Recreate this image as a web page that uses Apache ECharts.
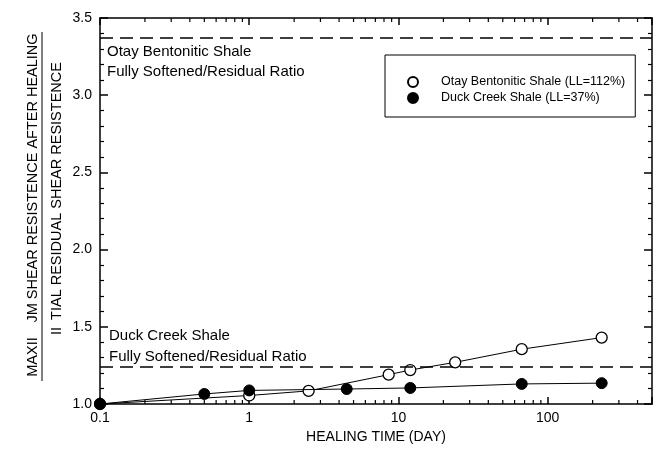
<!DOCTYPE html>
<html>
<head>
<meta charset="utf-8">
<script src="https://cdn.jsdelivr.net/npm/echarts@6/dist/echarts.min.js"></script>
<style>
html,body{margin:0;padding:0;background:#fff;}
#chart{width:671px;height:453px;}
</style>
</head>
<body>
<div id="chart"></div>
<script>
// ---- data ----
const otayDays  = [0.1, 1, 2.5, 8.6, 12, 24, 67, 230];
const otayRatio = [1.0, 1.055, 1.085, 1.19, 1.22, 1.27, 1.355, 1.43];
const duckDays  = [0.1, 0.5, 1, 4.5, 12, 67, 230];
const duckRatio = [1.0, 1.065, 1.088, 1.097, 1.104, 1.13, 1.135];
const otayLimit = 3.37;   // Otay fully softened / residual ratio
const duckLimit = 1.24;   // Duck Creek fully softened / residual ratio
const xTickLabels = ['0.1', '1', '10', '100'];
const seriesNames = ['Otay Bentonitic Shale (LL=112%)', 'Duck Creek Shale (LL=37%)'];

const X_MIN = 0.1, X_MAX = 500, Y_MIN = 1.0, Y_MAX = 3.5;
const FONT = 'Liberation Sans, Arial, sans-serif';

// minor tick values for the log axis (2..9 in each decade)
const minorX = [];
for (const d of [0.1, 1, 10, 100]) {
  for (let k = 2; k <= 9; k++) { const v = k * d; if (v < X_MAX) minorX.push(v); }
}

const chart = echarts.init(document.getElementById('chart'));

function axisLine() { return { show: true, onZero: false, lineStyle: { color: '#000', width: 1.5 } }; }
function majorTick(len) { return { show: true, inside: true, length: len, lineStyle: { color: '#000', width: 1.5 } }; }
function minorTickY() { return { show: true, splitNumber: 5, length: 4, lineStyle: { color: '#000', width: 1.2 } }; }

const option = {
  animation: false,
  grid: { left: 100, right: 19, top: 18, bottom: 49 },
  legend: {
    data: seriesNames,
    orient: 'vertical',
    left: 385, top: 55,
    icon: 'circle',
    itemWidth: 46, itemHeight: 10,
    itemGap: 2,
    padding: [20, 10, 12, 22],
    borderColor: '#000', borderWidth: 1,
    textStyle: { fontFamily: FONT, fontSize: 12.5, color: '#000', lineHeight: 14 }
  },
  xAxis: [
    {
      type: 'log', logBase: 10, min: X_MIN, max: X_MAX, position: 'bottom',
      name: 'HEALING TIME (DAY)', nameLocation: 'middle', nameGap: 24,
      nameTextStyle: { fontFamily: FONT, fontSize: 14, color: '#000' },
      axisLine: axisLine(), splitLine: { show: false },
      axisTick: majorTick(7),
      axisLabel: { fontFamily: FONT, fontSize: 14, color: '#000', margin: 7,
        formatter: function (v) { const s = String(+(+v).toPrecision(6)); return xTickLabels.indexOf(s) >= 0 ? s : ''; } }
    },
    {
      type: 'log', logBase: 10, min: X_MIN, max: X_MAX, position: 'top',
      axisLine: axisLine(), splitLine: { show: false },
      axisTick: majorTick(7),
      axisLabel: { show: false }
    }
  ],
  yAxis: [
    {
      type: 'value', min: Y_MIN, max: Y_MAX, interval: 0.5, position: 'left',
      axisLine: axisLine(), splitLine: { show: false },
      axisTick: majorTick(8),
      minorTick: minorTickY(),
      axisLabel: { fontFamily: FONT, fontSize: 14, color: '#000', margin: 8,
        formatter: function (v) { return v.toFixed(1); } }
    },
    {
      type: 'value', min: Y_MIN, max: Y_MAX, interval: 0.5, position: 'right',
      axisLine: axisLine(), splitLine: { show: false },
      axisTick: majorTick(8),
      minorTick: minorTickY(),
      axisLabel: { show: false }
    }
  ],
  series: [
    {
      name: seriesNames[0], type: 'line',
      data: otayDays.map((d, i) => [d, otayRatio[i]]),
      symbol: 'circle', symbolSize: 11,
      itemStyle: { color: '#fff', borderColor: '#000', borderWidth: 1.3 },
      lineStyle: { color: '#000', width: 1 },
      z: 3,
      markLine: {
        silent: true, symbol: 'none', animation: false,
        label: { show: false },
        lineStyle: { color: '#000', width: 1.5, type: [13, 7] },
        data: [{ yAxis: otayLimit }, { yAxis: duckLimit }]
      }
    },
    {
      name: seriesNames[1], type: 'line',
      data: duckDays.map((d, i) => [d, duckRatio[i]]),
      symbol: 'circle', symbolSize: 11,
      itemStyle: { color: '#000', borderColor: '#000', borderWidth: 1 },
      lineStyle: { color: '#000', width: 1 },
      z: 4
    },
    {
      name: 'minorTicks', type: 'custom', silent: true,
      data: minorX.map(v => [v, Y_MIN]),
      renderItem: function (params, api) {
        const v = api.value(0);
        const pb = api.coord([v, Y_MIN]);
        const pt = api.coord([v, Y_MAX]);
        return { type: 'group', children: [
          { type: 'line', shape: { x1: pb[0], y1: pb[1], x2: pb[0], y2: pb[1] - 4 }, style: { stroke: '#000', lineWidth: 1.2 } },
          { type: 'line', shape: { x1: pt[0], y1: pt[1], x2: pt[0], y2: pt[1] + 4 }, style: { stroke: '#000', lineWidth: 1.2 } }
        ]};
      }
    }
  ],
  graphic: [
    { type: 'text', left: 107, top: 42,
      style: { text: 'Otay Bentonitic Shale\nFully Softened/Residual Ratio', font: '15px ' + FONT, fill: '#000', lineHeight: 20 } },
    { type: 'text', left: 109, top: 325,
      style: { text: 'Duck Creek Shale\nFully Softened/Residual Ratio', font: '15px ' + FONT, fill: '#000', lineHeight: 21 } },
    { type: 'text', x: 33, y: 357, rotation: Math.PI / 2,
      style: { text: 'MAXII', font: '14.5px ' + FONT, fill: '#000', align: 'center', verticalAlign: 'middle' } },
    { type: 'text', x: 33, y: 178, rotation: Math.PI / 2,
      style: { text: 'JM SHEAR RESISTENCE AFTER HEALING', font: '14.5px ' + FONT, fill: '#000', align: 'center', verticalAlign: 'middle' } },
    { type: 'line', shape: { x1: 42, y1: 32, x2: 42, y2: 381 }, style: { stroke: '#000', lineWidth: 1 } },
    { type: 'text', x: 57, y: 331, rotation: Math.PI / 2,
      style: { text: 'II', font: '14.5px ' + FONT, fill: '#000', align: 'center', verticalAlign: 'middle' } },
    { type: 'text', x: 57, y: 191, rotation: Math.PI / 2,
      style: { text: 'TIAL RESIDUAL SHEAR RESISTENCE', font: '14.5px ' + FONT, fill: '#000', align: 'center', verticalAlign: 'middle' } }
  ]
};

chart.setOption(option);
</script>
</body>
</html>
